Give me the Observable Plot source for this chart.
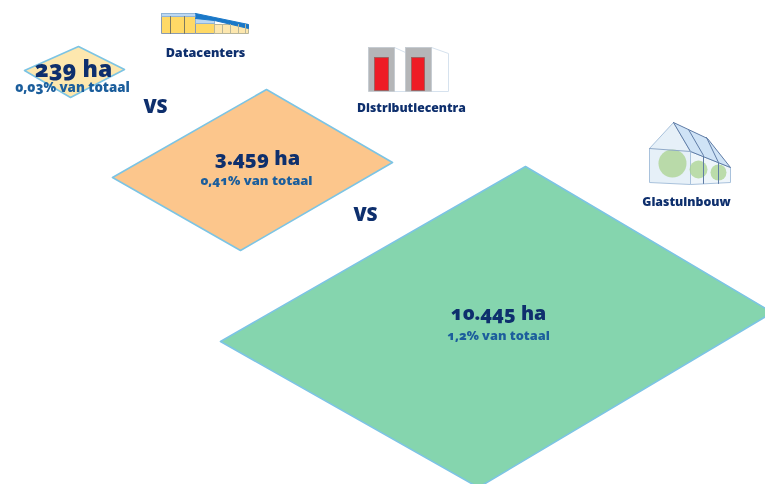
<!DOCTYPE html>
<html><head><meta charset="utf-8">
<script src="https://cdn.jsdelivr.net/npm/d3@7"></script>
<script src="https://cdn.jsdelivr.net/npm/@observablehq/plot@0.6"></script>
<style>
html,body{margin:0;padding:0;background:#fff;overflow:hidden}
svg{display:block;filter:blur(0.45px);font-family:"Open Sans",sans-serif;font-variant-numeric:oldstyle-nums}
</style></head><body>
<script>
const shapeNames = ["Datacenters", "Distributiecentra", "Glastuinbouw"];
const hectares = ["239 ha", "3.459 ha", "10.445 ha"];
const shares = ["0,03% van totaal", "0,41% van totaal", "1,2% van totaal"];
const fills = ["#fde7ae", "#fcc68c", "#85d5ae"];
const diamondX = [[24,78,124,70,24],[112,266,392,240,112],[220,525,772,478,220]];
const diamondY = [[70,46,69,97,70],[177,89,162,250,177],[341,166,312,487,341]];
const hectareX = [73,257,498], hectareY = [69,158,313], hectareSize = [23,20,19.6];
const shareX = [72,256,498], shareY = [87,180,335], shareSize = [13.3,13,12.8];
const nameX = [205,411,686], nameY = [52,108,202], nameSize = [12.6,12.2,12.3];
const vsX = [155,365], vsY = [106,214];

// icon parts: [fill, stroke, [x...], [y...]]
const iconParts = [
  // datacenter
  ["#ffd966","#8a9ab0",[161,195,195,161,161],[16,16,33,33,16]],
  ["#bcd8f2","#8fb4d8",[161,195,195,161,161],[13,13,16,16,13]],
  ["#ffd966","#8a9ab0",[195,214,214,195,195],[23,23,33,33,23]],
  ["#bcd8f2","#8fb4d8",[195,214,214,195,195],[18,18,23,23,18]],
  ["#fde7ae","#b9b69a",[214,248,248,214,214],[24,24,33,33,24]],
  ["#1a78c8","#1a78c8",[195,248,248,214,195],[13,24,28,20,18]],
  ["none","#7d7a60",[170,170],[16,33]],["none","#7d7a60",[184,184],[16,33]],
  ["none","#b9b69a",[222,222],[24,33]],["none","#b9b69a",[230,230],[24,33]],
  ["none","#b9b69a",[238,238],[24,33]],["none","#b9b69a",[245,245],[24,33]],
  // distribution centre
  ["#fff","#d6e2ee",[394,405,405,394,394],[47,52,91,91,47]],
  ["#fff","#d6e2ee",[431,448,448,431,431],[47,53,91,91,47]],
  ["#b4b6b8","#c6ccd2",[368,394,394,368,368],[47,47,91,91,47]],
  ["#b4b6b8","#c6ccd2",[405,431,431,405,405],[47,47,91,91,47]],
  ["#ee1c25","#a0605f",[374,388,388,374,374],[57,57,90,90,57]],
  ["#ee1c25","#a0605f",[411,424,424,411,411],[57,57,90,90,57]],
  // greenhouse
  ["#e6f0f8","#a9c2dc",[649,673,690,690,649,649],[148,122,151,184,182,148]],
  ["#eef5fa","#a9c2dc",[690,730,730,690,690],[151,167,182,184,151]]
];
const leafX = [672,698,718], leafY = [163,169,172], leafR = [14,9,8];
const roofParts = [
  ["#cfe3f6","#5f7ca6",[673,707,730,690,673],[122,138,167,151,122]],
  ["none","#5f7ca6",[688,703,703],[129,155,183]],
  ["none","#5f7ca6",[706,718,718],[137,162,183]],
  ["none","#8fa9c8",[649,690],[148,151]]
];

const rows = (x, y, extra) => x.map((v, i) => ({x: v, y: y[i], ...extra}));
const polygons = [];
diamondX.forEach((xs, i) => polygons.push(...rows(xs, diamondY[i], {id: "d" + i, fill: fills[i], stroke: "#7cc4e4"})));
const iconRows = (parts, prefix) => parts.flatMap((p, i) => rows(p[2], p[3], {id: prefix + i, fill: p[0], stroke: p[1]}));
const icons = iconRows(iconParts, "i");
const roofs = iconRows(roofParts, "r");
const lineOf = (data, sw) => Plot.line(data, {x: "x", y: "y", z: "id", fill: "fill", stroke: "stroke", strokeWidth: sw, curve: "linear"});
const navy = "#0e2f6d", blue = "#1c5e9c";
const texts = (label, x, y, size, color, weight = 800) => label.map((t, i) => Plot.text([t], {
  x: () => x[i], y: () => y[i], text: d => d, fontSize: Array.isArray(size) ? size[i] : size,
  fontWeight: weight, fill: color, textAnchor: "middle", lineAnchor: "middle"}));

const chart = Plot.plot({
  width: 765, height: 484, margin: 0,
  x: {type: "identity", axis: null},
  y: {type: "identity", axis: null},
  r: {type: "identity"},
  color: {type: "identity"},
  style: {background: "#fff", fontFamily: '"Open Sans",sans-serif'},
  marks: [
    lineOf(polygons, 1.6),
    lineOf(icons, 1),
    Plot.dot(leafX, {x: d => d, y: (d, i) => leafY[i], r: (d, i) => leafR[i], fill: "#a9d38f", fillOpacity: 0.75}),
    lineOf(roofs, 1),
    ...texts(hectares, hectareX, hectareY, hectareSize, navy),
    ...texts(shares, shareX, shareY, shareSize, blue),
    ...texts(shapeNames, nameX, nameY, nameSize, navy),
    ...texts(["VS","VS"], vsX, vsY, 19, navy)
  ]
});
document.body.append(chart);
</script></body></html>
